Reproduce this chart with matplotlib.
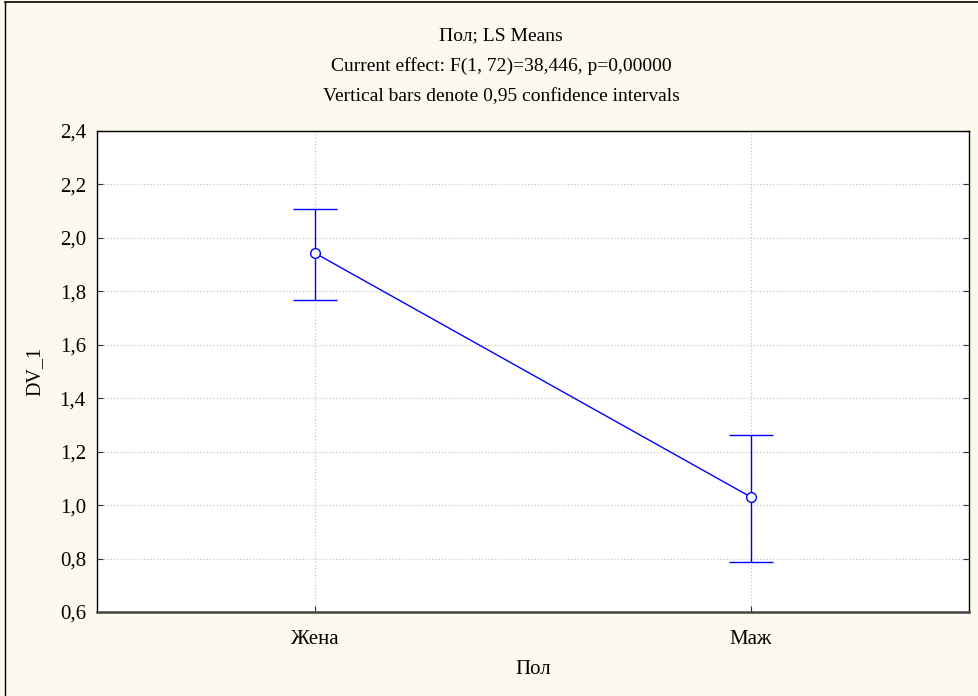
import matplotlib
matplotlib.use('Agg')
import matplotlib.pyplot as plt
from matplotlib.lines import Line2D

categories = ['Жена', 'Маж']
means = [1.943, 1.030]
upper = [2.108, 1.262]
lower = [1.767, 0.787]
y_ticks = [0.6, 0.8, 1.0, 1.2, 1.4, 1.6, 1.8, 2.0, 2.2, 2.4]
titles = ['Пол; LS Means',
          'Current effect: F(1, 72)=38,446, p=0,00000',
          'Vertical bars denote 0,95 confidence intervals']

plt.rcParams['font.family'] = ['Liberation Serif', 'DejaVu Serif']

fig = plt.figure(figsize=(9.79, 6.96), dpi=100, facecolor='#fef9ee')
ax = fig.add_axes([97 / 979, 1 - 612 / 696, 872 / 979, 481 / 696])
ax.set_facecolor('white')

x = list(range(len(categories)))
err = [[m - lo for m, lo in zip(means, lower)],
       [u - m for m, u in zip(means, upper)]]
ax.errorbar(x, means, yerr=err, color='#0000ff', lw=1.0, capsize=16,
            capthick=1.0, marker='o', markersize=7, markerfacecolor='white',
            markeredgecolor='#0000ff', markeredgewidth=1.0, zorder=3)

ax.set_xlim(-0.5, 1.5)
ax.set_ylim(0.6, 2.4)
ax.set_xticks(x)
ax.set_xticklabels(categories)
ax.set_yticks(y_ticks)
ax.set_yticklabels([f'{v:.1f}'.replace('.', ',') for v in y_ticks])
ax.tick_params(axis='both', direction='in', labelsize=15, length=4,
               color='#333333', right=True, top=False, pad=8)
ax.tick_params(axis='x', pad=13)
ax.grid(True, color='#c8c8c8', linestyle=':', linewidth=0.9)
ax.set_axisbelow(True)

for side in ('left', 'right', 'top'):
    ax.spines[side].set_color('black')
    ax.spines[side].set_linewidth(1.0)
ax.spines['bottom'].set_color('#444444')
ax.spines['bottom'].set_linewidth(1.8)

ax.set_ylabel('DV_1', fontsize=14.5, labelpad=11)
fig.text(533 / 979, 1 - 669 / 696, 'Пол', ha='center', va='center', fontsize=15)

for i, t in enumerate(titles):
    fig.text(501 / 979, 1 - (36 + 30.5 * i) / 696, t, ha='center', va='center',
             fontsize=14)

# outer frame lines (top, left)
fig.add_artist(Line2D([5 / 979, 1], [1 - 2 / 696, 1 - 2 / 696],
                      transform=fig.transFigure, color='black', lw=1.2))
fig.add_artist(Line2D([5 / 979, 5 / 979], [0, 1 - 2 / 696],
                      transform=fig.transFigure, color='black', lw=1.0))

fig.savefig('out.png', dpi=100, facecolor=fig.get_facecolor())
